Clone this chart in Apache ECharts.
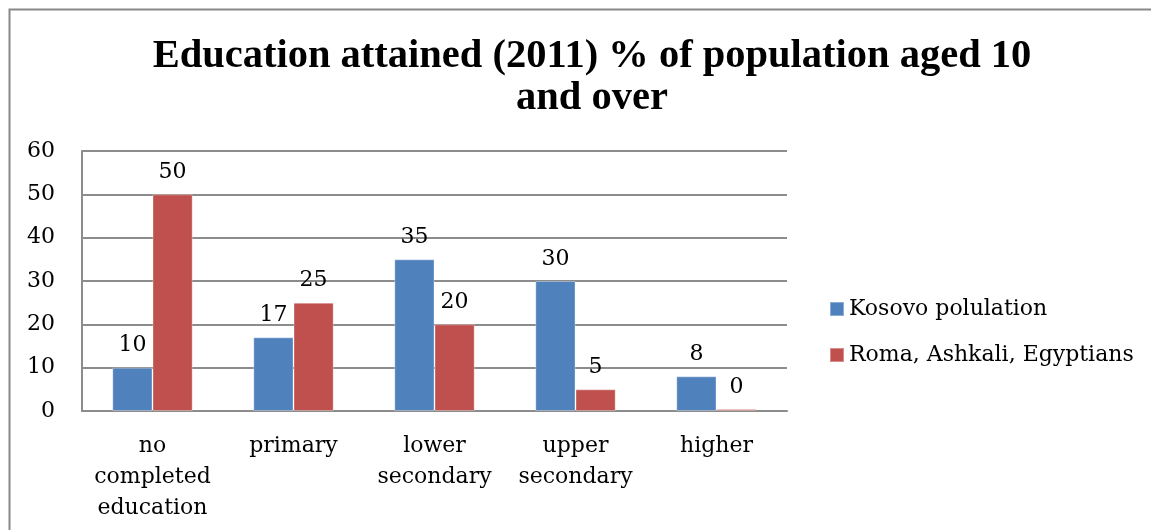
<!DOCTYPE html>
<html>
<head>
<meta charset="utf-8">
<style>
  html, body { margin: 0; padding: 0; background: #ffffff; }
  #chart { width: 1151px; height: 530px; }
</style>
<script src="https://cdn.jsdelivr.net/npm/echarts@6/dist/echarts.min.js"></script>
</head>
<body>
<div id="chart"></div>
<script>
// Education attained in 2011, percent of the population aged 10 and over
const categories = ['no\ncompleted\neducation', 'primary', 'lower\nsecondary', 'upper\nsecondary', 'higher'];
const kosovoValues = [10, 17, 35, 30, 8];
const raeValues = [50, 25, 20, 5, 0];
const seriesNames = ['Kosovo polulation', 'Roma, Ashkali, Egyptians'];
const yTicks = { min: 0, max: 60, interval: 10 };

const bodyFont = '"DejaVu Serif", "Liberation Serif", serif';
const titleFont = '"Liberation Serif", "DejaVu Serif", serif';
const gridGray = '#8c8c8c';

const chart = echarts.init(document.getElementById('chart'), null, { renderer: 'canvas' });

function barSeries(name, data, color) {
  return {
    name: name,
    type: 'bar',
    data: data,
    barGap: '0%',
    barCategoryGap: '43%',
    barMinHeight: 2,
    itemStyle: { color: color, borderColor: 'rgba(255,255,255,0.35)', borderWidth: 1 },
    label: {
      show: true,
      position: 'top',
      distance: 11,
      fontFamily: bodyFont,
      fontSize: 22,
      color: '#000'
    }
  };
}

chart.setOption({
  animation: false,
  backgroundColor: '#ffffff',
  title: {
    text: 'Education attained (2011) % of population aged 10\nand over',
    left: 587,
    top: 31,
    textAlign: 'center',
    textStyle: {
      fontFamily: titleFont,
      fontWeight: 'bold',
      fontSize: 40.5,
      lineHeight: 42,
      color: '#000'
    }
  },
  graphic: [{
    type: 'rect',
    silent: true,
    shape: { x: 9.5, y: 9.5, width: 1200, height: 600 },
    style: { fill: null, stroke: '#888888', lineWidth: 2 }
  }],
  legend: {
    orient: 'vertical',
    left: 824,
    top: 293,
    itemWidth: 14,
    itemHeight: 14,
    itemGap: 24,
    icon: 'rect',
    textStyle: { fontFamily: bodyFont, fontSize: 22, color: '#000' },
    data: seriesNames
  },
  grid: {
    left: 82,
    top: 151,
    width: 705,
    height: 260,
    show: true,
    borderColor: 'transparent'
  },
  xAxis: {
    type: 'category',
    data: categories,
    axisLine: { lineStyle: { color: gridGray, width: 2 } },
    axisTick: { show: false },
    axisLabel: {
      fontFamily: bodyFont,
      fontSize: 22,
      lineHeight: 31,
      color: '#000',
      margin: 20,
      interval: 0
    }
  },
  yAxis: {
    type: 'value',
    min: yTicks.min,
    max: yTicks.max,
    interval: yTicks.interval,
    axisLine: { show: true, lineStyle: { color: gridGray, width: 2 } },
    axisTick: { show: false },
    splitLine: { lineStyle: { color: gridGray, width: 2 } },
    axisLabel: {
      fontFamily: bodyFont,
      fontSize: 22,
      color: '#000',
      margin: 27
    }
  },
  series: [
    barSeries(seriesNames[0], kosovoValues, '#4f81bd'),
    barSeries(seriesNames[1], raeValues, '#c0504d')
  ]
});
</script>
</body>
</html>
